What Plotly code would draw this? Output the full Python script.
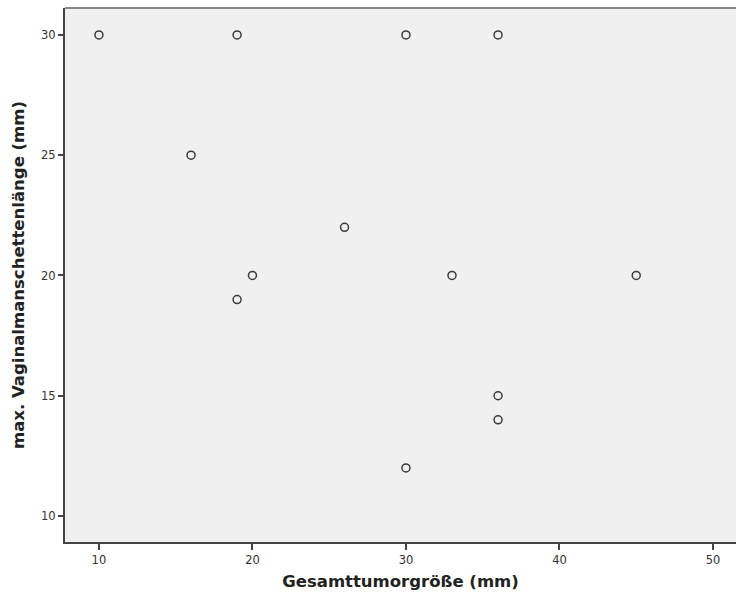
import plotly.graph_objects as go

tumor_size = [10, 19, 30, 36, 16, 26, 20, 33, 45, 19, 36, 36, 30]
vaginal_len = [30, 30, 30, 30, 25, 22, 20, 20, 20, 19, 15, 14, 12]
x_ticks = [10, 20, 30, 40, 50]
y_ticks = [10, 15, 20, 25, 30]

fig = go.Figure()
fig.add_trace(go.Scatter(
    x=tumor_size, y=vaginal_len, mode="markers",
    marker=dict(symbol="circle-open", size=8, color="#3a3a3a", line=dict(width=1.5, color="#3a3a3a")),
    hoverinfo="x+y", showlegend=False,
))

font_family = "DejaVu Sans, Verdana, sans-serif"
fig.update_layout(
    width=736, height=598,
    margin=dict(l=65, r=0, t=8, b=56),
    paper_bgcolor="white", plot_bgcolor="#f0f0f0",
    font=dict(family=font_family, color="#222"),
    xaxis=dict(
        range=[7.79, 51.5], tickvals=x_ticks, ticks="outside", ticklen=6, tickwidth=2,
        tickcolor="#444", showline=True, linecolor="#444", linewidth=2, mirror=False,
        showgrid=False, zeroline=False, tickfont=dict(size=11.5, color="#333"),
        title=dict(text="<b>Gesamttumorgröße (mm)</b>", font=dict(size=16.5, color="#222"), standoff=10),
    ),
    yaxis=dict(
        range=[8.92, 31.12], tickvals=y_ticks, ticks="outside", ticklen=5, tickwidth=2,
        tickcolor="#444", showline=True, linecolor="#444", linewidth=2,
        showgrid=False, zeroline=False, tickfont=dict(size=11.5, color="#333"),
        title=dict(text="<b>max. Vaginalmanschettenlänge (mm)</b>", font=dict(size=16.5, color="#222"), standoff=12),
    ),
)
fig.add_shape(type="line", xref="paper", yref="paper", x0=0, x1=1, y0=1, y1=1,
              line=dict(color="#888", width=2))
fig.write_html("out.html")
